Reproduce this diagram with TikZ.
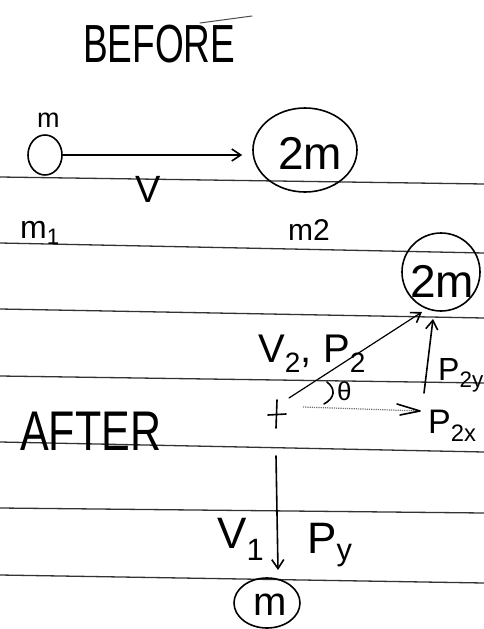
\documentclass[tikz,border=0pt]{standalone}
\usepackage{fontspec}
\setmainfont{Liberation Sans}
\usetikzlibrary{arrows.meta,shapes.geometric}
\newcommand{\fs}[1]{\fontsize{#1}{#1}\selectfont}
\begin{document}
\begin{tikzpicture}[x=1pt,y=-1pt,
  ink/.style={line width=1.6pt,line cap=round,line join=round},
  rule/.style={line width=1.3pt,black!80},
  body/.style={draw,ellipse,ink,inner sep=0pt},
  lab/.style={inner sep=0pt,anchor=base west},
  vec/.style={ink,-{Straight Barb[length=9pt,width=12pt,line width=1.6pt]}},
]
\useasboundingbox[fill=white] (0,0) rectangle (484,629);

% ruled paper lines
\foreach \a/\b in {177/184,243/253,309/318,376/383,442/452,508/513,575/583}
  \draw[rule] (0,\a) -- (484,\b);

% BEFORE
\node[lab,font=\fs{37}] (before) at (83,62) {\scalebox{1}[1.45]{BEFORE}};
\draw[ink,line width=1pt,black!70] (200,23) -- (252,16);

\node[lab,font=\fs{27}] (mlab) at (37,127) {m};
\node[body,minimum width=34pt,minimum height=40pt] (m1) at (45,155) {};
\node[body,minimum width=104pt,minimum height=84pt] (M2b) at (305,150) {};
\node[font=\fs{46},inner sep=0pt] (t2b) at (310,153) {2m};
\draw[vec,shorten >=10pt] (m1.east) -- (M2b.west |- m1.east);
\node[lab,font=\fs{38}] (V) at (135,202) {V};
\node[lab,font=\fs{32}] (m1lab) at (20,238) {m\textsubscript{1}};
\node[lab,font=\fs{30}] (m2lab) at (288,240) {m2};

% AFTER
\node[lab,font=\fs{43}] (after) at (20,450) {\scalebox{1}[1.3]{AFTER}};

\node[body,minimum width=78pt,minimum height=78pt] (M2a) at (441,272) {};
\node[font=\fs{46},inner sep=0pt] (t2a) at (442,281) {2m};

\coordinate (O) at (289,398);
\coordinate (tip2) at (422,312);
\draw[vec,line width=1.2pt] (O) -- (tip2);
\node[lab,font=\fs{40}] (v2p2) at (258,362) {V\textsubscript{2}, P\textsubscript{2}};

% origin cross
\draw[ink] (277,400) -- (276,428);
\draw[ink] (268,415) -- (286,414);

% angle
\draw[ink] (327,382) .. controls (336,389) and (335,398) .. (324,404);
\node[lab,font=\fs{26}] (theta) at (337,400) {θ};

% P2x component
\coordinate (px0) at (303,407);
\coordinate (px1) at (420,411);
\draw[line width=1.2pt,black!55,densely dotted] (px0) -- (px1);
\draw[ink] (397,404) -- (px1) -- (400,415);
\node[lab,font=\fs{34}] (p2x) at (428,433) {P\textsubscript{2x}};

% P2y component
\coordinate (py0) at (424,393);
\coordinate (py1) at (433,319);
\draw[vec] (py0) -- (py1);
\node[lab,font=\fs{32}] (p2y) at (438,380) {P\textsubscript{2y}};

% m after
\node[body,minimum width=66pt,minimum height=50pt] (mb) at (267,603) {};
\node[font=\fs{40},inner sep=0pt] (tmb) at (270,605) {m};
\coordinate (d0) at (276,456);
\coordinate (d1) at (278,570);
\draw[vec] (d0) -- (d1);
\node[lab,font=\fs{44}] (v1) at (217,548) {V\textsubscript{1}};
\node[lab,font=\fs{44}] (py) at (307,553) {P\textsubscript{y}};
\end{tikzpicture}
\end{document}
